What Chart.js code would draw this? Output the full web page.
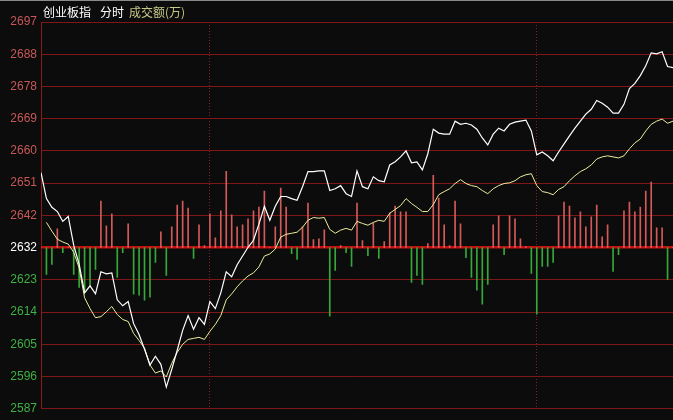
<!DOCTYPE html>
<html>
<head>
<meta charset="utf-8">
<script src="https://cdn.jsdelivr.net/npm/chart.js@4.4.1/dist/chart.umd.min.js"></script>
<style>
  html, body { margin: 0; padding: 0; background: #0c0c0c; }
  #wrap { position: relative; width: 673px; height: 420px; overflow: hidden; }
  #topline { position: absolute; left: 0; top: 0; width: 673px; height: 1px; background: #8a8a8a; }
  #title { position: absolute; left: 43px; top: 5px; font: 12px "Noto Sans CJK SC", sans-serif; line-height: 14px; color: #ffffff; white-space: nowrap; }
  #title .vol { color: #c8c88a; margin-left: 5px; }
  #title .mode { margin-left: 9px; }
</style>
</head>
<body>
<div id="wrap">
  <canvas id="chart" width="673" height="420"></canvas>
  <div id="topline"></div>
  <div id="title">创业板指<span class="mode">分时</span><span class="vol">成交额(万)</span></div>
</div>
<script>
// tick labels of the price axis, bottom to top (2632 = previous close)
const yLabels = [2587, 2596, 2605, 2614, 2623, 2632, 2642, 2651, 2660, 2669, 2678, 2688, 2697];
const priceBase = 2586.6;
const priceStep = 9.2;

// one point every 2 minutes
const price = [
  2654.0, 2646.6, 2644.1, 2642.9, 2640.1, 2641.5, 2633.3, 2627.9, 2619.7, 2621.7,
  2619.4, 2625.7, 2625.1, 2625.4, 2617.7, 2616.0, 2617.2, 2610.9, 2607.8, 2603.6,
  2599.1, 2601.6, 2599.3, 2592.8, 2597.9, 2603.3, 2609.0, 2613.2, 2609.3, 2612.6,
  2610.7, 2617.2, 2615.2, 2619.7, 2625.7, 2624.3, 2627.7, 2630.2, 2632.7, 2634.7,
  2639.3, 2644.4, 2640.4, 2644.4, 2647.2, 2647.2, 2646.6, 2646.1, 2650.0, 2654.3,
  2654.3, 2654.5, 2654.5, 2648.9, 2649.4, 2650.3, 2648.0, 2647.2, 2654.5, 2650.0,
  2649.4, 2652.8, 2651.7, 2651.4, 2656.2, 2657.1, 2658.5, 2660.2, 2656.8, 2657.1,
  2654.8, 2659.4, 2666.4, 2665.3, 2665.0, 2665.0, 2668.7, 2667.8, 2668.1, 2667.6,
  2666.4, 2663.9, 2661.9, 2665.0, 2666.7, 2665.9, 2667.8, 2668.4, 2668.7, 2669.0,
  2665.9, 2659.1, 2659.9, 2658.8, 2657.4, 2659.9, 2662.2, 2664.5, 2666.7, 2668.7,
  2670.7, 2672.1, 2674.6, 2673.8, 2672.7, 2671.0, 2671.0, 2673.5, 2678.0, 2679.5,
  2681.7, 2684.5, 2688.2, 2687.9, 2688.5, 2684.3, 2684.0
];

const avgPrice = [
  null, 2639.8, 2637.3, 2635.0, 2634.2, 2633.6, 2631.3, 2626.8, 2618.3, 2615.2,
  2612.6, 2612.9, 2614.3, 2615.8, 2613.5, 2612.1, 2611.5, 2608.1, 2606.1, 2603.9,
  2599.1, 2596.8, 2597.4, 2595.7, 2599.6, 2602.7, 2605.0, 2606.4, 2606.7, 2607.0,
  2606.4, 2608.7, 2610.7, 2613.2, 2617.7, 2619.4, 2621.4, 2623.1, 2624.5, 2625.4,
  2627.1, 2630.2, 2630.8, 2632.2, 2635.6, 2636.4, 2636.7, 2637.0, 2638.4, 2640.4,
  2641.2, 2641.0, 2641.2, 2637.8, 2636.7, 2637.6, 2638.1, 2637.6, 2640.1, 2639.5,
  2639.0, 2639.8, 2640.4, 2640.1, 2642.4, 2643.5, 2644.6, 2646.6, 2645.2, 2644.1,
  2642.9, 2642.9, 2644.9, 2647.7, 2648.6, 2649.4, 2650.9, 2652.0, 2650.9, 2650.3,
  2650.0, 2648.9, 2648.0, 2649.4, 2650.3, 2650.9, 2651.1, 2651.7, 2652.8, 2653.4,
  2653.7, 2650.3, 2648.6, 2648.3, 2647.7, 2649.2, 2650.0, 2651.7, 2653.1, 2654.3,
  2655.1, 2656.2, 2657.9, 2658.5, 2658.8, 2658.5, 2658.2, 2658.8, 2660.8, 2662.5,
  2663.6, 2665.9, 2667.8, 2668.7, 2669.3, 2668.1, 2668.7
];

// buy/sell bars around the previous close line
const flow = [
  0, -27, -17, 19, -5, 0, -27, -40, -45, -38,
  -22, 47, 22, 34, -30, -5, 24, -47, -48, -53,
  -50, -15, 16, -28, 21, 43, 47, 40, -11, 23,
  2, 34, 10, 37, 77, 33, 21, 23, 29, 37,
  41, 57, 0, 21, 60, 41, -6, -12, 21, 45,
  8, 9, 18, -69, -23, 2, -5, -19, 45, 7,
  -8, 25, -11, 6, 35, 42, 36, 36, -35, -28,
  -37, 4, 73, 50, 23, 2, 47, 24, -10, -30,
  -43, -57, -37, 23, 32, -7, 32, 29, 9, 1,
  -26, -67, -19, -19, -15, 32, 46, 42, 30, 36,
  21, 31, 43, 11, 23, -24, -7, 37, 46, 36,
  41, 57, 66, 20, 20, -32, 0
];

// hourly separators (10:30, 14:00)
const hourMarks = [31, 91];

const gridRed = "#7e1717";

const ctx = document.querySelector("#chart").getContext("2d");

new Chart(ctx, {
  data: {
    datasets: [
      {
        type: "line",
        label: "price",
        data: price.map((v, i) => ({ x: i, y: v })),
        borderColor: "#ffffff",
        borderWidth: 1.2,
        pointRadius: 0,
        tension: 0,
        yAxisID: "y",
        order: 1,
      },
      {
        type: "line",
        label: "avg",
        data: avgPrice.map((v, i) => ({ x: i, y: v })),
        borderColor: "#ecec9c",
        borderWidth: 1,
        pointRadius: 0,
        tension: 0,
        yAxisID: "y",
        order: 2,
      },
      {
        type: "bar",
        label: "flow",
        data: flow.map((v, i) => ({ x: i, y: v })),
        backgroundColor: flow.map((v) => (v >= 0 ? "#d35a5a" : "#36a83a")),
        barThickness: 1,
        yAxisID: "y2",
        order: 3,
      },
    ],
  },
  options: {
    responsive: false,
    animation: false,
    layout: { padding: { top: 22, bottom: 8, right: 0, left: 0 } },
    plugins: { legend: { display: false }, tooltip: { enabled: false } },
    scales: {
      x: {
        type: "linear",
        min: 0,
        max: price.length - 1,
        offset: false,
        afterBuildTicks: (scale) => {
          scale.ticks = hourMarks.map((v) => ({ value: v }));
        },
        ticks: { display: false },
        grid: { color: "#8a2020", drawTicks: false, lineWidth: 1, offset: false },
        border: { display: false, dash: [1, 2] },
      },
      y: {
        type: "linear",
        position: "left",
        min: priceBase,
        max: priceBase + priceStep * (yLabels.length - 1),
        afterBuildTicks: (scale) => {
          scale.ticks = yLabels.map((_, k) => ({ value: priceBase + priceStep * k }));
        },
        afterFit: (scale) => {
          scale.width = 41;
        },
        ticks: {
          padding: 4,
          font: { family: "Liberation Sans", size: 12 },
          color: (c) => (c.index < 5 ? "#3fb043" : c.index === 5 ? "#ffffff" : "#c85858"),
          callback: (v, i) => yLabels[i],
        },
        grid: {
          drawTicks: false,
          color: (c) => (c.index === 5 ? "#c41010" : gridRed),
          lineWidth: (c) => (c.index === 5 ? 2.5 : 1),
        },
        border: { display: true, color: "#8a1a1a", width: 1 },
      },
      y2: {
        type: "linear",
        display: false,
        min: -162.5,
        max: 227.5,
      },
    },
  },
});
</script>
</body>
</html>
